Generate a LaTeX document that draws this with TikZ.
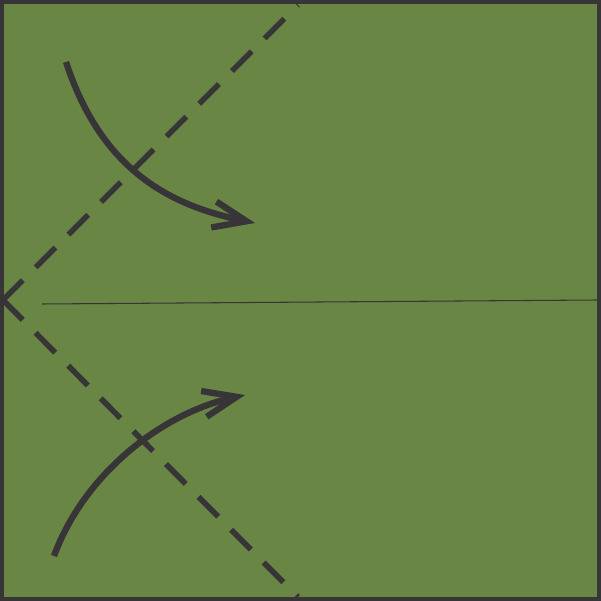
\documentclass[tikz,border=0pt]{standalone}
\usetikzlibrary{arrows.meta}
\definecolor{paper}{RGB}{106,134,69}
\definecolor{ink}{RGB}{56,53,56}
\tikzset{
  valley/.style={ink,line width=1.6pt,dash pattern=on 7.95pt off 5.2pt},
  turn/.style={ink,line width=1.8pt,-{Straight Barb[length=9.5pt,width=7.5pt]}}
}
\begin{document}
\begin{tikzpicture}[x=0.01cm,y=-0.01cm]
\useasboundingbox (0,0) rectangle (601,601);
\draw[ink,fill=paper,line width=1.1pt] (2,2) rectangle (599,599);
\coordinate (V) at (3,300);
\coordinate (T) at (298,5);
\coordinate (B) at (298,597);
\draw[ink,line width=0.3pt] (42,304) -- (598,300);
\draw[valley] (V) -- (T);
\draw[valley] (V) -- (B);
\draw[turn] (66,62) .. controls (102,172) and (172,206) .. (255,223);
\draw[turn] (54,556) .. controls (84,474) and (162,413) .. (245,395);
\end{tikzpicture}
\end{document}
